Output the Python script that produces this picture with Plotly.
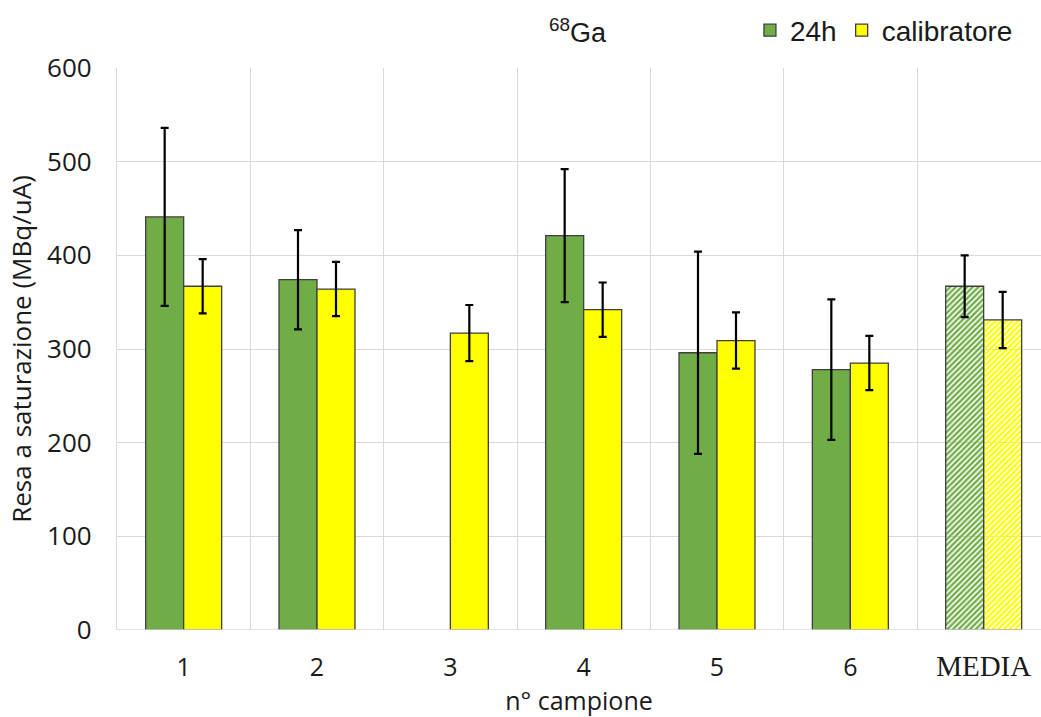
import plotly.graph_objects as go

categories = ["1", "2", "3", "4", "5", "6", "MEDIA"]
val_24h = [441, 374, None, 421, 296, 278, 367]
err_24h = [95, 53, 0, 71, 108, 75, 33]
val_cal = [367, 364, 317, 342, 309, 285, 331]
err_cal = [29, 29, 30, 29, 30, 29, 30]

GREEN = "#70ad47"
YELLOW = "#ffff00"
x = list(range(len(categories)))
n = len(categories)


def pattern_for(fg, bg_last):
    # solid bars for the samples, diagonal hatching for the mean
    shapes = [""] * (n - 1) + ["/"]
    fgs = [fg] * n
    bgs = [fg] * (n - 1) + [bg_last]
    return dict(shape=shapes, fgcolor=fgs, bgcolor=bgs, size=4, solidity=0.6, fillmode="replace")


fig = go.Figure()
fig.add_trace(go.Bar(
    name="24h", x=x, y=val_24h,
    marker=dict(color=[GREEN] * n, line=dict(color="#3f3f3f", width=1.3),
                pattern=pattern_for(GREEN, "#e2efda")),
    error_y=dict(type="data", array=err_24h, color="black", thickness=2.2, width=4),
))
fig.add_trace(go.Bar(
    name="calibratore", x=x, y=val_cal,
    marker=dict(color=[YELLOW] * n, line=dict(color="#3f3f3f", width=1.3),
                pattern=pattern_for(YELLOW, "#ffffe0")),
    error_y=dict(type="data", array=err_cal, color="black", thickness=2.2, width=4),
))

ticktext = categories[:-1] + [
    "<span style='font-family:Liberation Serif;font-size:29px'>MEDIA</span>"]

fig.update_layout(
    width=1041, height=717,
    margin=dict(l=117, r=0, t=68, b=87, autoexpand=False),
    paper_bgcolor="white", plot_bgcolor="white",
    barmode="group", bargap=0.43, bargroupgap=0,
    font=dict(family="Open Sans", color="#1a1a1a"),
    legend=dict(orientation="h", x=0.685, y=1 + (68 - 30.5) / 562, xanchor="left", yanchor="middle",
                font=dict(family="Liberation Sans", size=28, color="#1a1a1a"),
                itemwidth=30, traceorder="normal"),
    showlegend=True,
    xaxis=dict(
        range=[-0.5, 6.43], tickmode="array", tickvals=x, ticktext=ticktext,
        showgrid=False, zeroline=False, showline=False, ticks="", ticklabelstandoff=20,
        tickfont=dict(size=25, family="Open Sans", color="#1a1a1a"),
        minor=dict(tickmode="array", tickvals=[i - 0.5 for i in range(n + 1)],
                   showgrid=True, gridcolor="#d9d9d9", gridwidth=1.2, ticks=""),
        title=dict(text="n° campione", font=dict(size=25, family="Open Sans", color="#1a1a1a"), standoff=7),
    ),
    yaxis=dict(
        range=[0, 600], tickvals=[0, 100, 200, 300, 400, 500, 600],
        showgrid=True, gridcolor="#d9d9d9", gridwidth=1.2, zeroline=False,
        showline=True, linecolor="#d9d9d9", linewidth=1.2, ticks="", ticklabelstandoff=19,
        tickfont=dict(size=26, family="Open Sans", color="#1a1a1a"),
        title=dict(text="Resa a saturazione (MBq/uA)", font=dict(size=26, family="Open Sans", color="#1a1a1a"), standoff=7),
    ),
)
fig.add_shape(type="line", xref="paper", yref="y", x0=0, x1=1, y0=0, y1=0,
              line=dict(color="#d9d9d9", width=1.5))
fig.add_annotation(text="<sup>68</sup>Ga", xref="paper", yref="paper",
                   x=(578 - 117) / 924, y=1 + (68 - 31) / 562, xanchor="center", yanchor="middle",
                   showarrow=False,
                   font=dict(family="Liberation Sans", size=27, color="#1a1a1a"))

fig.write_html("out.html")
